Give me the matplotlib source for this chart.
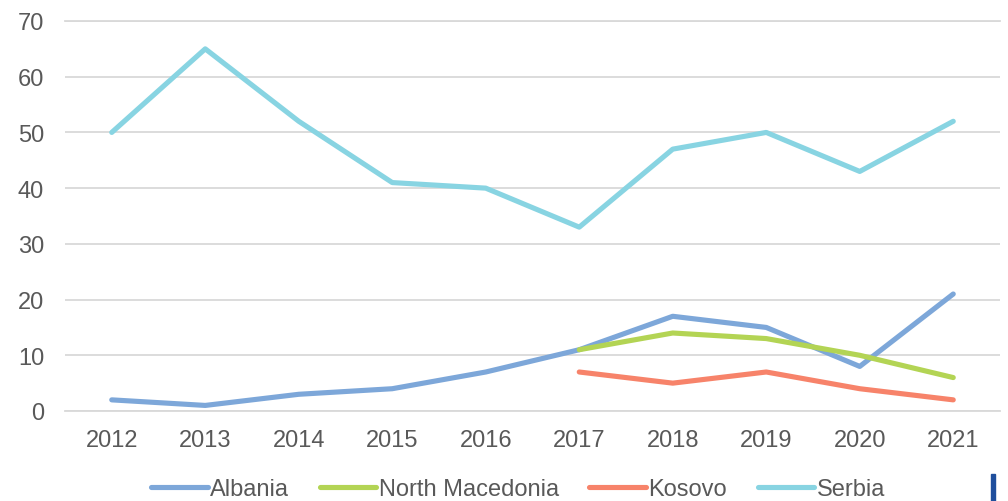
import matplotlib
matplotlib.use("Agg")
import matplotlib.pyplot as plt
from matplotlib.patches import Rectangle

years = ["2012", "2013", "2014", "2015", "2016", "2017", "2018", "2019", "2020", "2021"]
albania = [2, 1, 3, 4, 7, 11, 17, 15, 8, 21]
north_macedonia = [None, None, None, None, None, 11, 14, 13, 10, 6]
kosovo = [None, None, None, None, None, 7, 5, 7, 4, 2]
serbia = [50, 65, 52, 41, 40, 33, 47, 50, 43, 52]
yticks = [0, 10, 20, 30, 40, 50, 60, 70]

series = [
    ("Albania", albania, "#7DA7D9"),
    ("North Macedonia", north_macedonia, "#B3D454"),
    ("Kosovo", kosovo, "#F7836A"),
    ("Serbia", serbia, "#88D4E2"),
]

plt.rcParams['font.family'] = ['Liberation Sans', 'DejaVu Sans']
txt = "#595959"
fs = 17

fig = plt.figure(figsize=(10.08, 5.02), dpi=100)
ax = fig.add_axes([65 / 1008, 90 / 502, 935 / 1008, 390 / 502])

x = list(range(len(years)))
handles = []
for name, vals, col in series:
    xs = [i for i, v in zip(x, vals) if v is not None]
    ys = [v for v in vals if v is not None]
    h, = ax.plot(xs, ys, color=col, lw=3.7, solid_capstyle='round',
                 solid_joinstyle='round', label=name, zorder=3)
    handles.append(h)

ax.set_xlim(-0.5, len(years) - 0.5)
ax.set_ylim(0, 70)
ax.set_yticks(yticks)
ax.set_xticks(x)
ax.set_xticklabels(years)
ax.grid(axis='y', color='#D9D9D9', lw=1.3, zorder=0)
ax.set_axisbelow(True)
for s in ax.spines.values():
    s.set_visible(False)
ax.tick_params(axis='both', length=0, labelsize=fs, colors=txt)
ax.tick_params(axis='x', pad=13)
ax.tick_params(axis='y', pad=15)
ax.axhline(0, color='#D9D9D9', lw=1.3, zorder=1, clip_on=False)
ax.axhline(70, color='#D9D9D9', lw=1.3, zorder=1, clip_on=False)

leg = fig.legend(handles=handles, loc='center', bbox_to_anchor=(518 / 1008, 12 / 502),
                 ncol=4, frameon=False, fontsize=fs, handlelength=2.4,
                 handletextpad=0.1, columnspacing=1.3, borderaxespad=0,
                 borderpad=0)
for t in leg.get_texts():
    t.set_color(txt)

fig.patches.append(Rectangle((991 / 1008, 0), 4 / 1008, 27 / 502,
                             transform=fig.transFigure, color='#1F4E9C'))

fig.savefig("out.png", dpi=100)
